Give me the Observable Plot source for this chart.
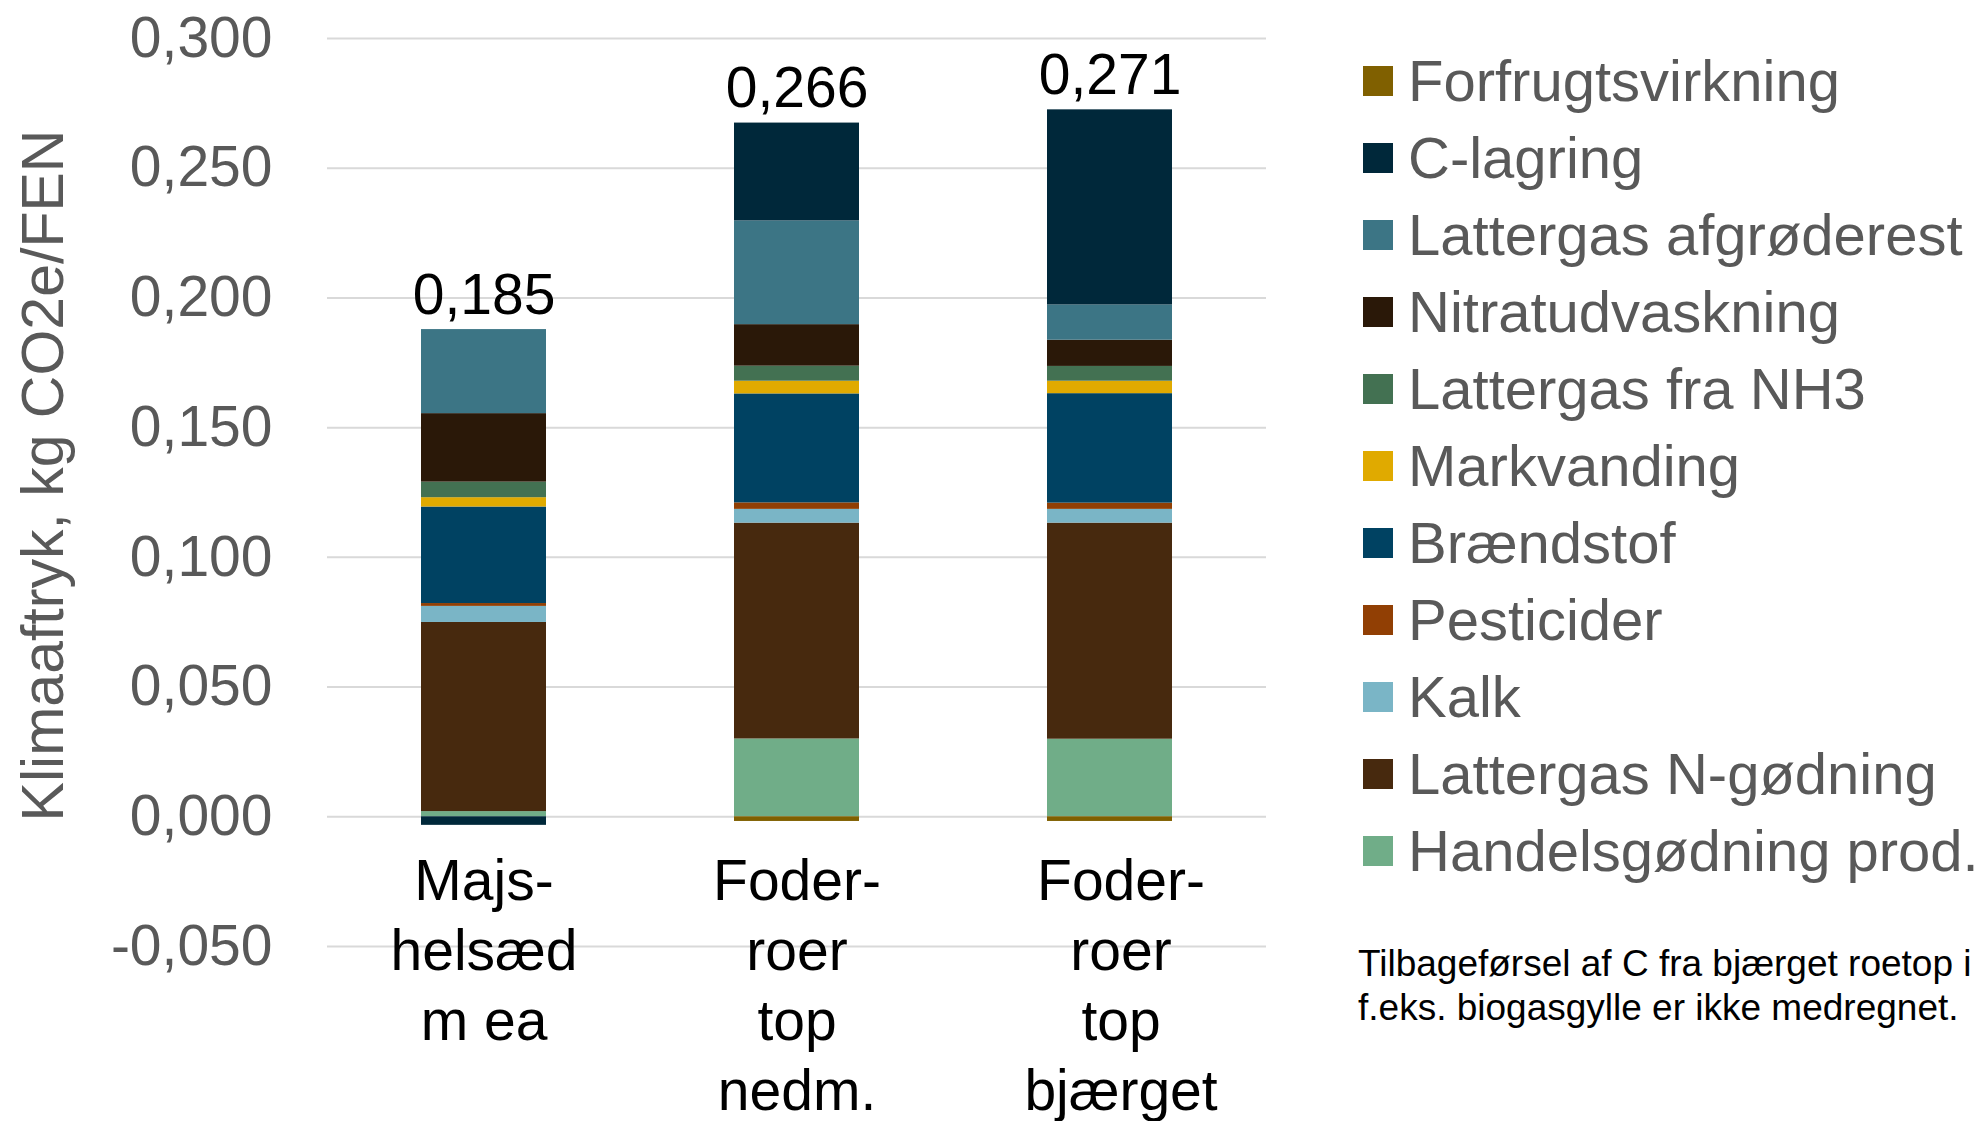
<!DOCTYPE html>
<html><head><meta charset="utf-8">
<script src="https://cdn.jsdelivr.net/npm/d3@7"></script>
<script src="https://cdn.jsdelivr.net/npm/@observablehq/plot@0.6"></script>
<style>
body{margin:0;background:#fff;font-family:"Liberation Sans",Arial,sans-serif;}
#wrap{position:relative;width:1985px;height:1121px;overflow:hidden;background:#fff;}
#chart{position:absolute;left:0;top:0;}
#legend{position:absolute;left:1363px;top:42px;}
.row{display:flex;align-items:center;height:77px;line-height:77px;font-size:58px;color:#595959;white-space:nowrap;}
.sw{width:30px;height:30px;margin-right:15px;flex:none;}
#note{position:absolute;left:1358px;top:942px;font-size:37px;line-height:44px;color:#000;white-space:nowrap;}
</style></head>
<body><div id="wrap"><div id="chart"></div><div id="legend"></div><div id="note"></div></div>
<script>
const categories = ["Majs-helsæd m ea", "Foder-roer top nedm.", "Foder-roer top bjærget"];
const categoryLabels = ["Majs-\nhelsæd\nm ea", "Foder-\nroer\ntop\nnedm.", "Foder-\nroer\ntop\nbjærget"];
const series = ["Forfrugtsvirkning", "C-lagring", "Lattergas afgrøderest", "Nitratudvaskning", "Lattergas fra NH3", "Markvanding", "Brændstof", "Pesticider", "Kalk", "Lattergas N-gødning", "Handelsgødning prod."];
const colors = ["#806000", "#00283A", "#3C7585", "#2A1808", "#437152", "#E0AA00", "#004262", "#913F04", "#7AB5C6", "#47290E", "#70AD88"];

const forfrugtsvirkning = [0, -0.0018, -0.0018];
const cLagring = [-0.0033, 0.0377, 0.0752];
const lattergasAfgroderest = [0.0324, 0.0400, 0.0136];
const nitratudvaskning = [0.0264, 0.0160, 0.0101];
const lattergasNH3 = [0.0060, 0.0058, 0.0057];
const markvanding = [0.0036, 0.0049, 0.0048];
const braendstof = [0.0372, 0.0420, 0.0422];
const pesticider = [0.0011, 0.0025, 0.0024];
const kalk = [0.0062, 0.0053, 0.0053];
const lattergasNgodning = [0.0729, 0.0832, 0.0833];
const handelsgodning = [0.0020, 0.0300, 0.0299];

const totals = [0.185, 0.266, 0.271];
const yTicks = [-0.05, 0, 0.05, 0.1, 0.15, 0.2, 0.25, 0.3];
const yTitle = "Klimaaftryk, kg CO2e/FEN";
const noteLines = ["Tilbageførsel af C fra bjærget roetop i", "f.eks. biogasgylle er ikke medregnet."];

const values = [forfrugtsvirkning, cLagring, lattergasAfgroderest, nitratudvaskning, lattergasNH3, markvanding, braendstof, pesticider, kalk, lattergasNgodning, handelsgodning];

// build table bottom-up (last legend entry at the bottom)
const table = [];
for (let s = series.length - 1; s >= 0; s--) {
  categories.forEach((c, i) => table.push({category: c, series: series[s], value: values[s][i]}));
}
const positiveTops = categories.map((c, i) => d3.sum(values, v => Math.max(0, v[i])));

const loc = d3.formatLocale({decimal: ",", thousands: ".", grouping: [3], currency: ["", " kr."], minus: "-"});
const fmt = loc.format(".3f");
const font = "Liberation Sans, Arial, sans-serif";

const labelOpts = {x: d => d, y: () => 0, text: d => categoryLabels[categories.indexOf(d)], lineAnchor: "top", lineHeight: 1.228, dy: 34, fontSize: 57, fill: "black"};

const chart = Plot.plot({
  width: 1340, height: 1121,
  marginLeft: 327, marginRight: 74, marginTop: 38, marginBottom: 175,
  style: {fontFamily: font, fontSize: "57px", background: "white", overflow: "visible"},
  x: {domain: categories, paddingInner: 0.6, paddingOuter: 0.3, axis: null},
  y: {domain: [-0.05, 0.3], axis: null},
  color: {domain: series, range: colors},
  marks: [
    Plot.ruleY(yTicks, {stroke: "#d9d9d9", strokeWidth: 2}),
    Plot.barY(table, {x: "category", y: "value", fill: "series"}),
    Plot.axisY({ticks: yTicks, tickSize: 0, tickPadding: 55, tickFormat: fmt, fontSize: 57, fill: "#595959", label: null}),
    Plot.text(categories.slice(0, 2), labelOpts),
    Plot.text(categories.slice(2), {...labelOpts, dx: 11}),
    Plot.text(categories, {x: d => d, y: (d, i) => positiveTops[i], text: (d, i) => fmt(totals[i]), lineAnchor: "bottom", dy: -16, fontSize: 57, fill: "black"}),
    Plot.text([yTitle], {frameAnchor: "left", textAnchor: "middle", lineAnchor: "middle", dx: -283, dy: -17, rotate: -90, fontSize: 59, fill: "#595959"})
  ]
});
document.getElementById("chart").appendChild(chart);

const legend = document.getElementById("legend");
series.forEach((s, i) => {
  const row = document.createElement("div");
  row.className = "row";
  const sw = document.createElement("span");
  sw.className = "sw";
  sw.style.background = colors[i];
  const label = document.createElement("span");
  label.textContent = s;
  row.appendChild(sw);
  row.appendChild(label);
  legend.appendChild(row);
});
const note = document.getElementById("note");
noteLines.forEach(t => { const d = document.createElement("div"); d.textContent = t; note.appendChild(d); });
</script>
</body></html>
